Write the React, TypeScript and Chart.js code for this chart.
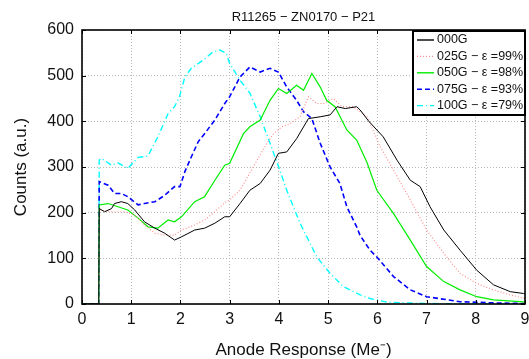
import React, { useEffect, useRef } from "react";
import { Chart, registerables } from "chart.js";
Chart.register(...registerables);

const TITLE = "R11265 − ZN0170 − P21";
const X_LABEL = "Anode Response (Me⁻)";
const Y_LABEL = "Counts (a.u.)";
const X_MIN = 0;
const X_MAX = 9;
const Y_MIN = 0;
const Y_MAX = 600;
const X_STEP = 1;
const Y_STEP = 100;

const SERIES_LABELS = ["000G", "025G − ε =99%", "050G − ε =98%", "075G − ε =93%", "100G − ε =79%"];

const x000 = [0, 0.34, 0.35, 0.46, 0.6, 0.66, 0.8, 0.93, 1.07, 1.27, 1.48, 1.68, 1.88, 2.02, 2.29, 2.49, 2.7, 2.9, 3.0, 3.21, 3.41, 3.62, 3.82, 3.99, 4.16, 4.36, 4.6, 4.84, 5.04, 5.18, 5.35, 5.58, 5.65, 5.82, 6.12, 6.4, 6.67, 6.87, 7.07, 7.35, 7.68, 8.02, 8.36, 8.7, 8.97, 9.0];
const y000 = [0, 0, 209, 202, 209, 220, 224, 220, 206, 180, 166, 155, 140, 147, 162, 166, 177, 191, 191, 220, 249, 264, 293, 330, 333, 362, 406, 410, 414, 432, 428, 432, 425, 401, 366, 315, 271, 257, 213, 162, 118, 74, 42, 27, 23, 22];

const x025 = [0, 0.34, 0.35, 0.6, 0.87, 1.07, 1.27, 1.48, 1.68, 1.88, 2.02, 2.29, 2.49, 2.7, 2.9, 3.0, 3.21, 3.48, 3.69, 3.89, 4.06, 4.23, 4.43, 4.6, 4.77, 4.91, 5.11, 5.28, 5.51, 5.79, 6.06, 6.33, 6.67, 7.0, 7.35, 7.68, 8.02, 8.36, 8.7, 9.0];
const y025 = [0, 0, 206, 202, 202, 195, 173, 155, 151, 151, 162, 173, 184, 202, 222, 228, 249, 300, 340, 373, 388, 395, 410, 454, 439, 439, 450, 432, 432, 410, 344, 293, 228, 162, 111, 67, 45, 31, 20, 12];

const x050 = [0, 0.34, 0.35, 0.53, 0.73, 0.93, 1.14, 1.34, 1.54, 1.75, 1.88, 2.02, 2.29, 2.49, 2.7, 2.9, 3.0, 3.28, 3.41, 3.62, 3.82, 3.99, 4.16, 4.36, 4.5, 4.67, 4.84, 4.97, 5.14, 5.38, 5.58, 5.79, 5.99, 6.33, 6.67, 7.0, 7.35, 7.68, 8.02, 8.36, 8.9, 9.0];
const y050 = [0, 0, 217, 220, 213, 206, 188, 169, 166, 184, 180, 191, 224, 235, 271, 304, 308, 373, 388, 403, 446, 472, 461, 479, 468, 505, 475, 446, 432, 381, 359, 310, 249, 198, 140, 82, 49, 31, 16, 9, 5, 4];

const x075 = [0, 0.34, 0.35, 0.53, 0.66, 0.8, 0.93, 1.14, 1.27, 1.48, 1.68, 1.88, 1.99, 2.09, 2.22, 2.36, 2.49, 2.7, 2.9, 3.0, 3.21, 3.41, 3.62, 3.82, 3.99, 4.16, 4.36, 4.5, 4.67, 4.84, 5.04, 5.24, 5.38, 5.58, 5.65, 5.85, 5.99, 6.33, 6.67, 7.0, 7.68, 8.5, 9.0];
const y075 = [0, 0, 268, 260, 242, 242, 235, 217, 220, 224, 238, 257, 257, 290, 322, 355, 373, 403, 439, 454, 497, 519, 508, 516, 508, 475, 446, 421, 406, 352, 300, 264, 213, 169, 150, 118, 103, 60, 31, 16, 5, 2, 1];

const x100 = [0, 0.34, 0.35, 0.39, 0.6, 0.73, 0.93, 1.14, 1.34, 1.54, 1.75, 1.88, 1.98, 2.09, 2.22, 2.46, 2.66, 2.8, 2.93, 3.0, 3.21, 3.41, 3.62, 3.82, 3.99, 4.16, 4.43, 4.77, 5.04, 5.31, 5.65, 5.85, 6.2, 7.0, 9.0];
const y100 = [0, 0, 315, 319, 304, 309, 297, 321, 324, 366, 417, 432, 454, 497, 516, 534, 552, 556, 549, 527, 490, 462, 410, 352, 302, 249, 177, 103, 67, 38, 20, 12, 4, 1, 0];

const SERIES_X = [x000, x025, x050, x075, x100];
const SERIES_Y = [y000, y025, y050, y075, y100];
const COLORS = ["#000000", "#ff8c8c", "#00ee00", "#0000ff", "#00ffff"];
const WIDTHS = [1, 1.2, 1.2, 1.6, 1.4];
const DASHES: number[][] = [[], [1, 2], [], [5, 3], [6, 3, 1, 3]];

const FONT = '"Liberation Sans", Arial, Helvetica, sans-serif';

export default function App() {
  const ref = useRef<HTMLCanvasElement>(null);
  useEffect(() => {
    const canvas = ref.current!;
    const datasets = SERIES_LABELS.map((label, i) => ({
      label,
      data: SERIES_X[i].map((x, j) => ({ x, y: SERIES_Y[i][j] })),
      borderColor: COLORS[i],
      backgroundColor: COLORS[i],
      borderWidth: WIDTHS[i],
      borderDash: DASHES[i],
      pointRadius: 0,
      tension: 0,
      fill: false,
    }));

    const frame = {
      id: "frame",
      afterDatasetsDraw(chart: any) {
        const ctx = chart.ctx;
        const { left, right, top, bottom } = chart.chartArea;
        const xs = chart.scales.x;
        const ys = chart.scales.y;
        ctx.save();
        ctx.setLineDash([]);
        ctx.strokeStyle = "#000";
        ctx.lineWidth = 1;
        for (let v = X_MIN; v <= X_MAX; v += X_STEP) {
          const px = Math.round(xs.getPixelForValue(v)) + 0.5;
          ctx.beginPath();
          ctx.moveTo(px, bottom);
          ctx.lineTo(px, bottom - 4);
          ctx.moveTo(px, top);
          ctx.lineTo(px, top + 4);
          ctx.stroke();
        }
        for (let v = Y_MIN; v <= Y_MAX; v += Y_STEP) {
          const py = Math.round(ys.getPixelForValue(v)) + 0.5;
          ctx.beginPath();
          ctx.moveTo(left, py);
          ctx.lineTo(left + 4, py);
          ctx.moveTo(right, py);
          ctx.lineTo(right - 4, py);
          ctx.stroke();
        }
        ctx.lineWidth = 1.6;
        ctx.strokeRect(left, top, right - left, bottom - top);
        ctx.restore();
      },
      afterDraw(chart: any) {
        const ctx = chart.ctx;
        const { left, right, top, bottom } = chart.chartArea;
        ctx.save();
        ctx.fillStyle = "#111";
        ctx.textAlign = "center";
        ctx.textBaseline = "middle";
        ctx.font = `13px ${FONT}`;
        ctx.fillText(TITLE, (left + right) / 2, 17);
        ctx.font = `17px ${FONT}`;
        ctx.fillText(X_LABEL, (left + right) / 2, 350);
        ctx.save();
        ctx.translate(21, (top + bottom) / 2);
        ctx.rotate(-Math.PI / 2);
        ctx.fillText(Y_LABEL, 0, 0);
        ctx.restore();

        // legend
        const lx = 413, ly = 31, lw = right - 413, lh = 84;
        ctx.fillStyle = "#fff";
        ctx.fillRect(lx, ly, lw, lh);
        ctx.strokeStyle = "#000";
        ctx.lineWidth = 2;
        ctx.setLineDash([]);
        ctx.strokeRect(lx, ly, lw, lh);
        ctx.font = `12.5px ${FONT}`;
        ctx.textAlign = "left";
        SERIES_LABELS.forEach((lab, i) => {
          const y = 40 + i * 16.4;
          ctx.save();
          ctx.strokeStyle = COLORS[i];
          ctx.lineWidth = Math.max(1.4, WIDTHS[i]);
          ctx.setLineDash(DASHES[i]);
          ctx.beginPath();
          ctx.moveTo(417, y);
          ctx.lineTo(434, y);
          ctx.stroke();
          ctx.restore();
          ctx.fillStyle = "#111";
          ctx.fillText(lab, 437, y);
        });
        ctx.restore();
      },
    };

    const chart = new Chart(canvas, {
      type: "line",
      data: { datasets },
      options: {
        animation: false,
        responsive: false,
        maintainAspectRatio: false,
        layout: { padding: { left: 0, right: 4, top: 30, bottom: 0 } },
        plugins: { legend: { display: false }, title: { display: false }, tooltip: { enabled: false } },
        scales: {
          x: {
            type: "linear",
            min: X_MIN,
            max: X_MAX,
            afterFit: (s: any) => { s.height = 55; s.paddingRight = 0; s.paddingLeft = 0; },
            ticks: { stepSize: X_STEP, color: "#111", font: { family: FONT, size: 16 }, padding: 6, maxRotation: 0 },
            grid: { color: "#b8b8b8", lineWidth: 1, drawTicks: false },
            border: { display: false, dash: [1, 2] },
          },
          y: {
            type: "linear",
            min: Y_MIN,
            max: Y_MAX,
            afterFit: (s: any) => { s.width = 82; s.paddingTop = 0; s.paddingBottom = 0; },
            ticks: { stepSize: Y_STEP, color: "#111", font: { family: FONT, size: 16 }, padding: 8 },
            grid: { color: "#b8b8b8", lineWidth: 1, drawTicks: false },
            border: { display: false, dash: [1, 2] },
          },
        },
      },
      plugins: [frame],
    });
    return () => chart.destroy();
  }, []);
  return (
    <div style={{ position: "absolute", left: 0, top: 0, width: 529, height: 359, background: "#fff" }}>
      <canvas ref={ref} width={529} height={359} style={{ display: "block" }} />
    </div>
  );
}
